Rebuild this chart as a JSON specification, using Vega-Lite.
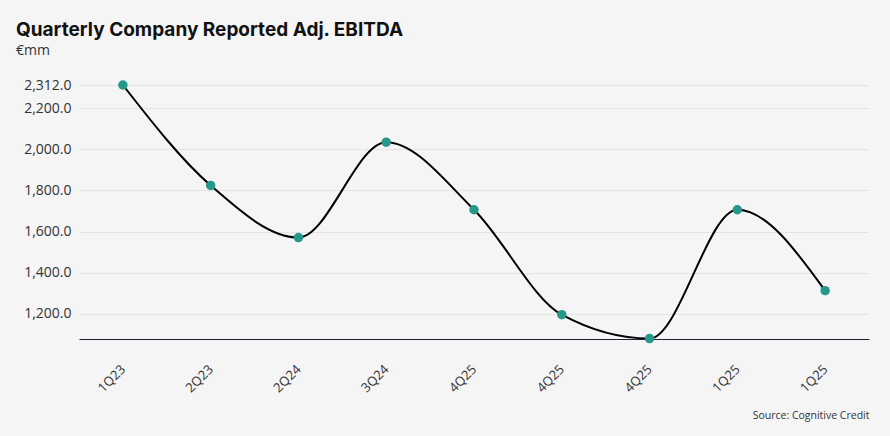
{
  "$schema": "https://vega.github.io/schema/vega-lite/v6.json",
  "description": "Quarterly Company Reported Adj. EBITDA",
  "background": "#f5f5f5",
  "autosize": {"type": "fit", "contains": "padding"},
  "width": 890,
  "height": 436,
  "padding": {"left": 16, "top": 21, "right": 21, "bottom": 14},
  "title": {
    "text": "Quarterly Company Reported Adj. EBITDA",
    "subtitle": "€mm",
    "anchor": "start",
    "frame": "bounds",
    "font": "Inter",
    "fontSize": 19,
    "fontWeight": "bold",
    "color": "#111111",
    "subtitleFont": "Open Sans",
    "subtitleFontSize": 14,
    "subtitleColor": "#333333",
    "subtitlePadding": 4,
    "offset": 20
  },
  "data": {
    "values": [
      {"idx": 0, "quarter": "1Q23", "ebitda": 2312},
      {"idx": 1, "quarter": "2Q23", "ebitda": 1824},
      {"idx": 2, "quarter": "2Q24", "ebitda": 1571},
      {"idx": 3, "quarter": "3Q24", "ebitda": 2034},
      {"idx": 4, "quarter": "4Q25", "ebitda": 1706},
      {"idx": 5, "quarter": "4Q25", "ebitda": 1196},
      {"idx": 6, "quarter": "4Q25", "ebitda": 1080},
      {"idx": 7, "quarter": "1Q25", "ebitda": 1706},
      {"idx": 8, "quarter": "1Q25", "ebitda": 1313}
    ]
  },
  "encoding": {
    "x": {
      "field": "idx",
      "type": "ordinal",
      "scale": {"type": "point", "padding": 0.5},
      "axis": {
        "title": "Source: Cognitive Credit",
        "titleAnchor": "end",
        "titleFont": "Open Sans",
        "titleFontSize": 10.5,
        "titleFontWeight": "normal",
        "titleColor": "#333333",
        "titlePadding": 16,
        "labelExpr": "['1Q23','2Q23','2Q24','3Q24','4Q25','4Q25','4Q25','1Q25','1Q25'][datum.value]",
        "labelAngle": -45,
        "labelAlign": "right",
        "labelBaseline": "middle",
        "labelPadding": 28,
        "labelFont": "Open Sans",
        "labelFontSize": 13,
        "labelColor": "#333333",
        "ticks": false,
        "grid": false,
        "domainColor": "#1a2433",
        "domainWidth": 1.2
      }
    },
    "y": {
      "field": "ebitda",
      "type": "quantitative",
      "scale": {"domain": [1078, 2312], "nice": false, "zero": false},
      "axis": {
        "title": null,
        "values": [1200, 1400, 1600, 1800, 2000, 2200, 2312],
        "format": ",.1f",
        "labelFont": "Open Sans",
        "labelFontSize": 14,
        "labelColor": "#333333",
        "labelPadding": 8,
        "minExtent": 63,
        "ticks": false,
        "domain": false,
        "grid": true,
        "gridColor": "#e4e4e4",
        "gridWidth": 1
      }
    }
  },
  "layer": [
    {
      "mark": {"type": "line", "interpolate": "monotone", "color": "#000000", "strokeWidth": 2}
    },
    {
      "mark": {"type": "circle", "size": 90, "color": "#25988a", "opacity": 1}
    }
  ],
  "config": {
    "view": {"stroke": null}
  }
}
